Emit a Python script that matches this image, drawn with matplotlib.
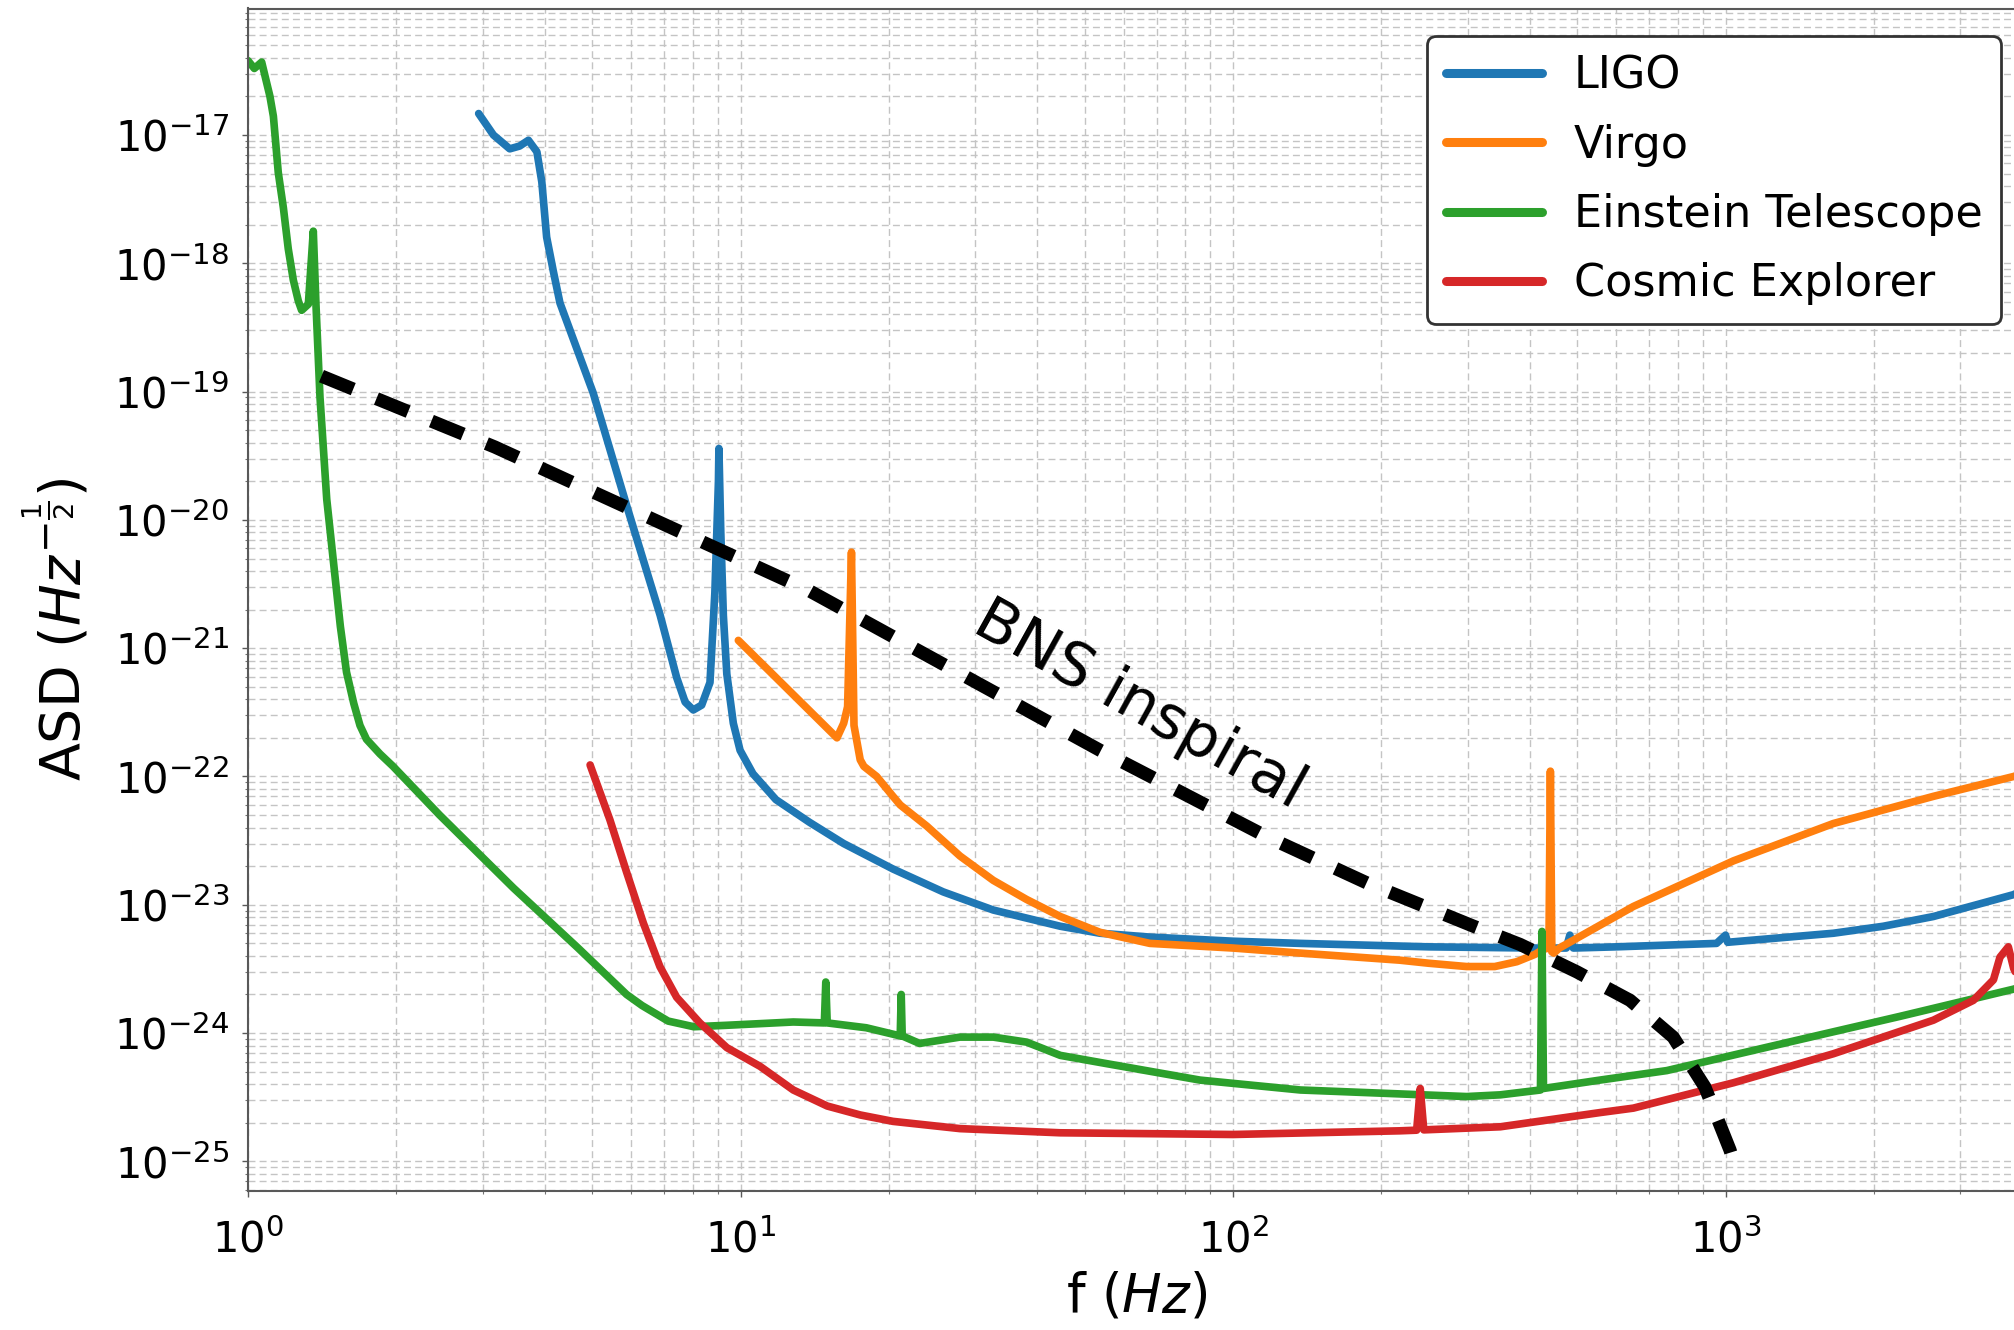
import numpy as np
import matplotlib
matplotlib.use("Agg")
import matplotlib.pyplot as plt
from matplotlib.ticker import LogLocator, NullFormatter, FixedLocator

# ---------------- data ----------------
ligo_f = [2.94, 3.15, 3.40, 3.56, 3.71, 3.86, 3.95, 4.04, 4.17, 4.30, 5.02, 5.87, 6.87, 7.42,
          7.72, 8.02, 8.34, 8.67, 8.87, 9.02, 9.04, 9.12, 9.23, 9.38, 9.67, 9.98, 10.6, 11.8,
          13.8, 16.2, 20.4, 25.8, 32.6, 44.6, 53.7, 67.8, 100, 137, 250, 407, 475, 483, 491,
          600, 959, 1000, 1010, 1656, 2090, 2643, 3846, 4000]
ligo_asd = [1.47e-17, 1.0e-17, 7.8e-18, 8.2e-18, 9.1e-18, 7.4e-18, 4.3e-18, 1.6e-18, 8.6e-19,
            4.9e-19, 9.8e-20, 1.3e-20, 1.8e-21, 5.9e-22, 3.8e-22, 3.3e-22, 3.6e-22, 5.4e-22,
            2.7e-21, 2.0e-20, 3.6e-20, 8e-21, 1.8e-21, 6.3e-22, 2.6e-22, 1.6e-22, 1.05e-22,
            6.6e-23, 4.4e-23, 3.0e-23, 1.9e-23, 1.26e-23, 9.1e-24, 6.8e-24, 6.0e-24, 5.6e-24,
            5.2e-24, 5.0e-24, 4.7e-24, 4.6e-24, 4.6e-24, 5.8e-24, 4.6e-24, 4.7e-24, 5.0e-24,
            5.8e-24, 5.1e-24, 6.0e-24, 6.8e-24, 8.1e-24, 1.2e-23, 1.3e-23]

virgo_f = [9.9, 15.7, 16.2, 16.5, 16.8, 17.0, 17.5, 17.8, 18.9, 20.4, 21.1, 23.9, 27.9, 32.6,
           38.1, 44.6, 53.7, 67.8, 100, 137, 218, 250, 298, 340, 377, 410, 427, 438, 441, 444,
           448, 460, 650, 1038, 1656, 2643, 3846, 4000]
virgo_asd = [1.15e-21, 2.0e-22, 2.6e-22, 3.5e-22, 5.6e-21, 2.5e-22, 1.35e-22, 1.2e-22, 1.0e-22,
             7.0e-23, 6.0e-23, 4.1e-23, 2.4e-23, 1.55e-23, 1.1e-23, 8.1e-24, 6.1e-24, 5.0e-24,
             4.6e-24, 4.2e-24, 3.7e-24, 3.5e-24, 3.3e-24, 3.3e-24, 3.6e-24, 4.1e-24, 4.5e-24,
             4.6e-24, 1.1e-22, 4.3e-24, 4.2e-24, 4.6e-24, 9.7e-24, 2.2e-23, 4.3e-23, 7.0e-23,
             1.0e-22, 1.05e-22]

et_f = [1.0, 1.03, 1.066, 1.108, 1.126, 1.152, 1.18, 1.207, 1.236, 1.265, 1.285, 1.326, 1.357,
        1.374, 1.40, 1.445, 1.54, 1.585, 1.64, 1.688, 1.74, 1.853, 1.97, 2.45, 3.46, 4.68,
        5.87, 6.31, 7.13, 8.04, 9.38, 12.8, 14.8, 14.9, 15.0, 18.0, 21.1, 21.2, 21.3, 23.1,
        27.9, 32.6, 38.1, 44.6, 53.7, 85.7, 137, 200, 298, 349, 421, 424, 427, 556, 760, 1416,
        2261, 3846, 4000]
et_asd = [3.8e-17, 3.3e-17, 3.7e-17, 2.0e-17, 1.4e-17, 5.1e-18, 2.7e-18, 1.3e-18, 7.4e-19,
          5.1e-19, 4.3e-19, 4.8e-19, 1.78e-18, 4.8e-19, 9.1e-20, 1.45e-20, 1.48e-21, 6.5e-22,
          3.7e-22, 2.5e-22, 1.95e-22, 1.5e-22, 1.2e-22, 5.0e-23, 1.35e-23, 4.6e-24, 2.0e-24,
          1.64e-24, 1.24e-24, 1.12e-24, 1.15e-24, 1.22e-24, 1.2e-24, 2.5e-24, 1.2e-24, 1.1e-24,
          9.5e-25, 2.0e-24, 9.5e-25, 8.3e-25, 9.3e-25, 9.3e-25, 8.5e-25, 6.7e-25, 5.9e-25,
          4.3e-25, 3.6e-25, 3.4e-25, 3.2e-25, 3.3e-25, 3.6e-25, 6.2e-24, 3.7e-25, 4.3e-25,
          5.1e-25, 8.9e-25, 1.35e-24, 2.2e-24, 2.3e-24]

ce_f = [4.95, 5.43, 5.87, 6.35, 6.86, 7.42, 8.27, 9.38, 10.96, 12.8, 15.0, 17.5, 20.4, 27.9,
        44.6, 100, 218, 236, 240, 244, 349, 556, 650, 1038, 1656, 2643, 3187, 3500, 3608,
        3752, 3846, 3950]
ce_asd = [1.23e-22, 4.6e-23, 1.8e-23, 7.2e-24, 3.3e-24, 1.9e-24, 1.2e-24, 7.7e-25, 5.5e-25,
          3.6e-25, 2.7e-25, 2.3e-25, 2.05e-25, 1.8e-25, 1.67e-25, 1.62e-25, 1.73e-25, 1.75e-25,
          3.7e-25, 1.76e-25, 1.86e-25, 2.4e-25, 2.6e-25, 4.1e-25, 6.9e-25, 1.26e-24, 1.8e-24,
          2.6e-24, 3.9e-24, 4.7e-24, 3.2e-24, 2.5e-24]

bns_f = [1.41, 3.17, 13.8, 53.7, 117, 187, 308, 383, 499, 640, 783, 908, 1021, 1040]
bns_asd = [1.32e-19, 3.7e-20, 2.8e-21, 1.6e-22, 3.4e-23, 1.48e-23, 6.8e-24, 4.9e-24, 3.0e-24,
           1.8e-24, 9.3e-25, 3.8e-25, 1.23e-25, 9.8e-26]

labels = ["LIGO", "Virgo", "Einstein Telescope", "Cosmic Explorer"]
colors = ["#1f77b4", "#ff7f0e", "#2ca02c", "#d62728"]
y_major_ticks = [1e-25, 1e-24, 1e-23, 1e-22, 1e-21, 1e-20, 1e-19, 1e-18, 1e-17]
x_major_ticks = [1e0, 1e1, 1e2, 1e3]
bns_label = "BNS inspiral"
bns_label_pos = (64.7, 3.56e-22)

# ---------------- figure ----------------
W, H = 2014, 1330
fig = plt.figure(figsize=(W / 100, H / 100), dpi=100)
ax_left, ax_right = 248 / W, 1.0
ax_bottom, ax_top = (H - 1191) / H, (H - 8.5) / H
ax = fig.add_axes([ax_left, ax_bottom, ax_right - ax_left, ax_top - ax_bottom])

series = [(ligo_f, ligo_asd), (virgo_f, virgo_asd), (et_f, et_asd), (ce_f, ce_asd)]
for (f, a), lab, c in zip(series, labels, colors):
    ax.plot(f, a, color=c, lw=5.5, label=lab, solid_joinstyle="round", solid_capstyle="round")

ax.plot(bns_f, bns_asd, color="black", lw=9.5, ls=(0, (2.6, 1.9)), dash_capstyle="butt")

ax.set_xscale("log")
ax.set_yscale("log")
ax.set_xlim(1, 10 ** ((W - 248) / 492.5))
ax.set_ylim(10 ** -25.231, 10 ** -16.014)

ax.xaxis.set_major_locator(FixedLocator(x_major_ticks))
ax.yaxis.set_major_locator(FixedLocator(y_major_ticks))
ax.xaxis.set_minor_locator(LogLocator(base=10, subs=np.arange(2, 10), numticks=100))
ax.yaxis.set_minor_locator(LogLocator(base=10, subs=np.arange(2, 10), numticks=100))
ax.xaxis.set_minor_formatter(NullFormatter())
ax.yaxis.set_minor_formatter(NullFormatter())

ax.grid(True, which="both", linestyle=(0, (5, 3)), color="#c4c4c4", lw=1.0)
ax.set_axisbelow(True)

ax.tick_params(which="major", direction="out", length=4.5, width=1.0, color="0.35",
               labelsize=30, pad=9)
ax.tick_params(which="minor", direction="out", length=2.5, width=0.8, color="0.45")
ax.tick_params(axis="x", which="major", pad=16)

for s in ["left", "bottom", "top"]:
    ax.spines[s].set_color("0.35")
    ax.spines[s].set_linewidth(1.5)
ax.spines["right"].set_visible(False)

ax.set_xlabel(r"f $(Hz)$", fontsize=38)
ax.set_ylabel(r"ASD $(Hz^{-\frac{1}{2}})$", fontsize=40)
ax.xaxis.set_label_coords(0.503, -0.0896)
ax.xaxis.label.set_va("center")
ax.yaxis.set_label_coords(-0.1076, 0.475)
ax.yaxis.label.set_va("center")

ax.text(bns_label_pos[0], bns_label_pos[1], bns_label, fontsize=44, rotation=-29,
        rotation_mode="anchor", ha="center", va="center", color="black")

leg = ax.legend(loc="upper right", bbox_to_anchor=(2001 / W, 1 - 36 / H),
                bbox_transform=fig.transFigure, borderaxespad=0, fontsize=32,
                handlelength=2.16, handletextpad=0.72, labelspacing=0.59, borderpad=0.42,
                fancybox=True, framealpha=1.0, edgecolor="0.2")
leg.get_frame().set_linewidth(2.0)
for line in leg.get_lines():
    line.set_linewidth(6.5)

fig.savefig("out.png", dpi=100)
